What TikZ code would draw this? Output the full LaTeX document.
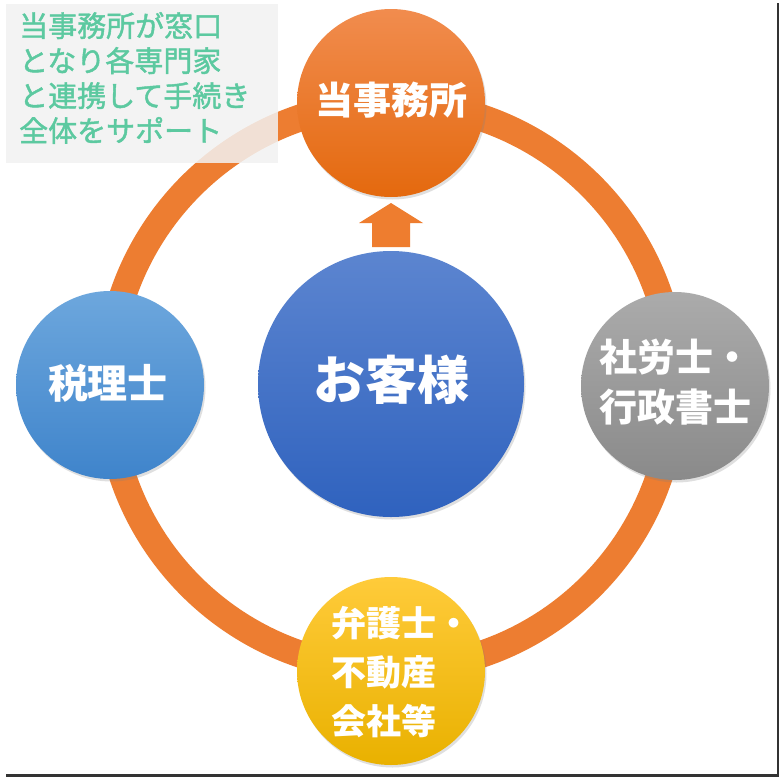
\documentclass[tikz,border=0pt]{standalone}
\usepackage{fontspec}
\newfontfamily\jp{Noto Sans CJK JP}
\newfontfamily\jpm[FakeBold=1.5]{Noto Sans CJK JP}
\usetikzlibrary{shadows}
\definecolor{ringc}{HTML}{ED7D31}
\definecolor{orT}{HTML}{F18C4E}
\definecolor{orB}{HTML}{E4690E}
\definecolor{blT}{HTML}{5C85D0}
\definecolor{blB}{HTML}{2F62BE}
\definecolor{ltT}{HTML}{6DA7DD}
\definecolor{ltB}{HTML}{3F84CB}
\definecolor{grT}{HTML}{ABABAB}
\definecolor{grB}{HTML}{8A8A8A}
\definecolor{yeT}{HTML}{FFCB3A}
\definecolor{yeB}{HTML}{E9B100}
\definecolor{notec}{HTML}{5CC9A0}
\definecolor{noteb}{HTML}{F2F2F2}
\definecolor{framec}{HTML}{333333}
\tikzset{
  party/.style={circle, inner sep=0pt, text=white, align=center, font=\jp\bfseries,
    drop shadow={shadow xshift=1.5pt, shadow yshift=-2.5pt, opacity=0.25}},
  partytext/.style={inner sep=0pt, text=white, align=center},
}
\begin{document}
\begin{tikzpicture}[x=1pt,y=-1pt]
\useasboundingbox (0,0) rectangle (780,777);
\fill[white] (0,0) rectangle (780,777);
% frame (right and bottom)
\draw[framec, line width=2.5pt] (778,3) -- (778,775.5) -- (6,775.5);
% ring
\coordinate (ctr) at (391,386);
\draw[ringc, line width=27pt] (ctr) circle[radius=283];
% note box
\node[fill=noteb, fill opacity=0.85, minimum width=272pt, minimum height=159pt,
  inner sep=0pt, anchor=north west] (note) at (6,4) {};
\node[text=notec, anchor=west, align=left, inner sep=0pt, font=\jpm\fontsize{29}{35}\selectfont] (notetxt) at (19,78)
  {当事務所が窓口\\となり各専門家\\と連携して手続き\\全体をサポート};
% arrow
\fill[ringc!95!orange] (372,247) -- (372,223) -- (359,223) -- (391,203) -- (423,223) -- (410,223) -- (410,247) -- cycle;
% nodes
\node[party, minimum size=266pt, top color=blT, bottom color=blB] (client) at (391,384) {};
\node[partytext, font=\jp\bfseries\fontsize{52}{56}\selectfont] (clienttxt) at (391,380) {お客様};
\node[party, minimum size=188pt, top color=orT, bottom color=orB] (office) at (391,103) {};
\node[partytext, font=\jp\bfseries\fontsize{38}{42}\selectfont] (officetxt) at (391,100) {当事務所};
\node[party, minimum size=188pt, top color=ltT, bottom color=ltB] (tax) at (110,385) {};
\node[partytext, font=\jp\bfseries\fontsize{40}{44}\selectfont] (taxtxt) at (108,383) {税理士};
\node[party, minimum size=188pt, top color=grT, bottom color=grB] (labor) at (675,386) {};
\node[partytext, font=\jp\bfseries\fontsize{38}{50}\selectfont] (labortxt) at (675,382) {社労士・\\行政書士};
\node[party, minimum size=188pt, top color=yeT, bottom color=yeB] (lawyer) at (391,671) {};
\node[partytext, anchor=west, align=left, font=\jp\bfseries\fontsize{35}{49}\selectfont] (lawyertxt) at (331,672) {弁護士・\\不動産\\会社等};
\end{tikzpicture}
\end{document}
